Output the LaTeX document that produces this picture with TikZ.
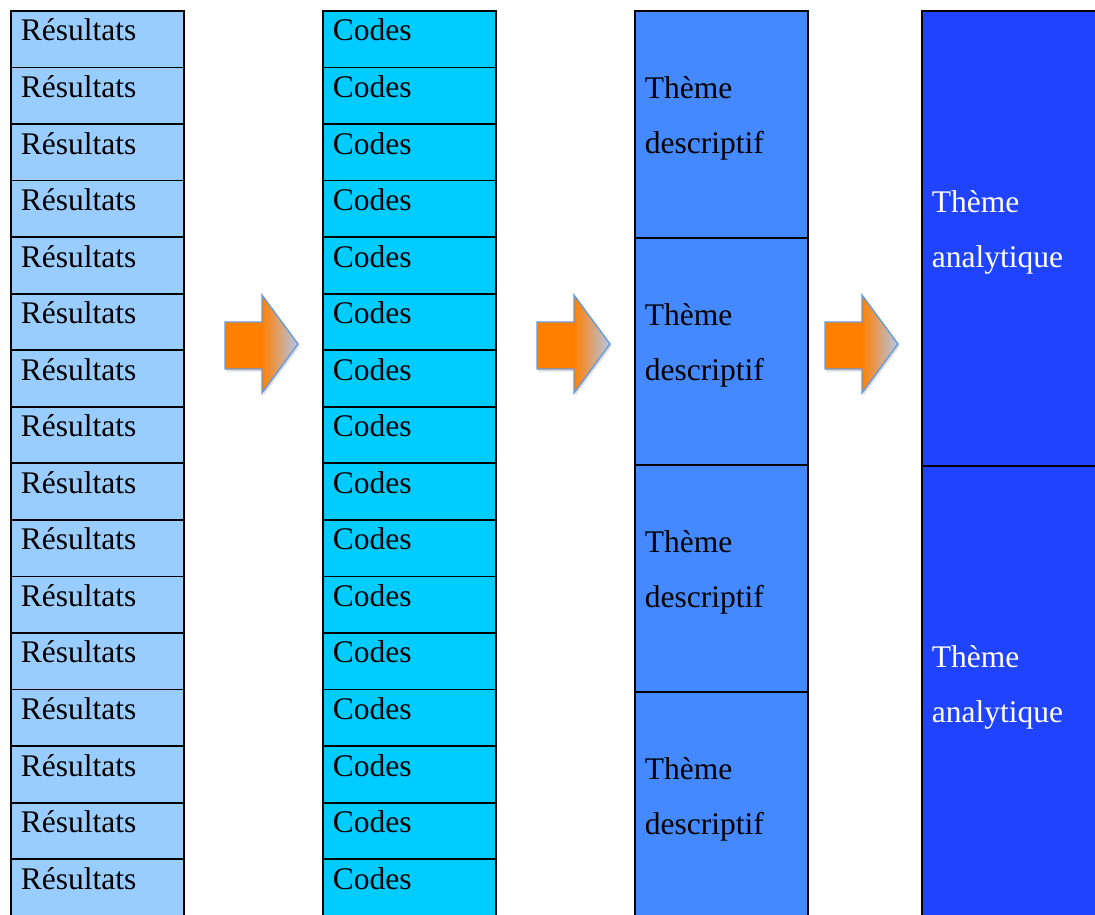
\documentclass[tikz,border=0pt]{standalone}
\usepackage{fontspec}
\setmainfont{Liberation Serif}
\usetikzlibrary{shadows}
\definecolor{resBlue}{HTML}{99CCFF}
\definecolor{codeCyan}{HTML}{00CCFF}
\definecolor{descBlue}{HTML}{4489FF}
\definecolor{anaBlue}{HTML}{1F43FF}
\definecolor{arrowOrange}{HTML}{FF8000}
\definecolor{arrowTip}{HTML}{B3C6EC}
\definecolor{arrowEdge}{HTML}{6A9AD4}
\pgfdeclarehorizontalshading{arrowfade}{100bp}{color(0bp)=(arrowOrange); color(50bp)=(arrowOrange); color(75bp)=(arrowTip); color(100bp)=(arrowTip)}
\tikzset{
  cell/.style={draw=black, line width=1.8pt, rectangle, anchor=north west, minimum width=173pt, text width=153pt, inner xsep=10pt, align=left, font=\fontsize{31.5}{55}\selectfont},
  rowcell/.style={cell, minimum height=56.6pt, inner ysep=0pt, text height=30pt, text depth=26.6pt},
  themecell/.style={cell, text height=22pt, text depth=73pt},
  stepArrow/.style={draw=arrowEdge, line width=1.4pt, shading=arrowfade, drop shadow={opacity=0.25, shadow xshift=1.5pt, shadow yshift=-2.5pt}}
}
\begin{document}
\begin{tikzpicture}[x=1pt, y=-1pt]
  \useasboundingbox (0,0) rectangle (1095,914);
  % Résultats column
  \foreach \i in {1,...,16}
    \node[rowcell, fill=resBlue] (res\i) at (10,{10+(\i-1)*56.55}) {Résultats};
  % Codes column
  \foreach \i in {1,...,16}
    \node[rowcell, fill=codeCyan] (code\i) at (322,{10+(\i-1)*56.55}) {Codes};
  % descriptive themes
  \foreach \i in {1,...,4}
    \node[themecell, fill=descBlue, minimum height=227pt] (desc\i) at (634,{10+(\i-1)*227}) {Thème\\descriptif};
  % analytic themes
  \foreach \i in {1,2}
    \node[themecell, fill=anaBlue, text=white, text width=158pt, minimum width=178pt, minimum height=455pt] (ana\i) at (921,{10+(\i-1)*455}) {Thème\\analytique};
  % step arrows
  \foreach \ax in {225,537,825}
    \path[stepArrow] (\ax,322) -- ++(37,0) -- ++(0,-27) -- ++(36,49) -- ++(-36,49) -- ++(0,-24) -- ++(-37,0) -- cycle;
\end{tikzpicture}
\end{document}
